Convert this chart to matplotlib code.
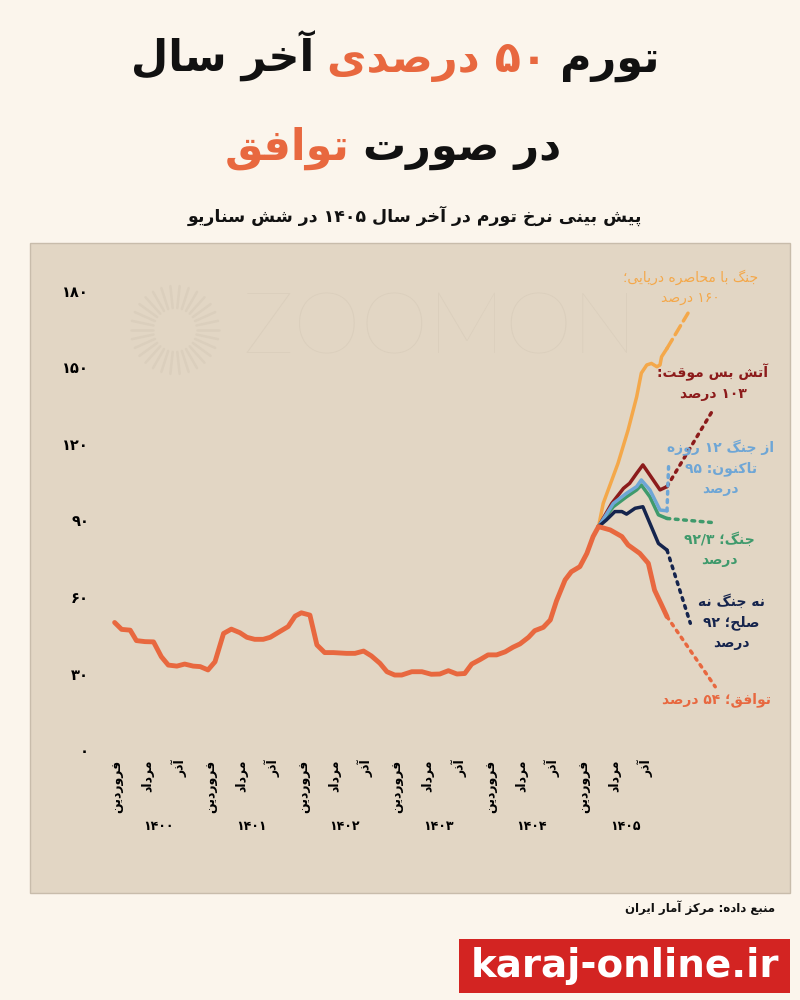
import re
import matplotlib
matplotlib.use('Agg')
import matplotlib.pyplot as plt
import matplotlib.transforms as mtransforms
from matplotlib.patches import Rectangle
from matplotlib.lines import Line2D
import numpy as np

plt.rcParams['font.family'] = ['DejaVu Sans']

# ==================== data (months from فروردین 1400) ====================
hist_month = [-0.3, 0.6, 1.7, 2.5, 3.6, 4.7, 5.7, 6.6, 7.7, 8.7, 9.8, 10.7, 11.7,
              12.6, 13.7, 14.7, 15.8, 16.7, 17.7, 18.8, 19.7, 20.9, 22.0, 22.9,
              23.7, 24.8, 25.7, 26.7, 27.8, 29.5, 30.6, 31.7, 32.7, 33.8, 34.7,
              35.7, 36.6, 37.9, 39.2, 40.4, 41.5, 42.6, 43.7, 44.7, 45.6, 46.7,
              47.7, 48.8, 49.9, 50.9, 51.8, 52.9, 53.7, 54.8, 55.7, 56.5, 57.6,
              58.4, 59.5, 60.4, 61.2, 61.9]
hist_value = [50.0, 47.3, 47.0, 42.9, 42.5, 42.4, 36.6, 33.3, 32.9, 33.7, 32.9,
              32.7, 31.4, 34.6, 45.7, 47.4, 46.0, 44.2, 43.4, 43.4, 44.2, 46.4,
              48.4, 52.5, 53.8, 52.9, 41.2, 38.2, 38.2, 37.9, 37.9, 38.8, 36.9,
              34.0, 30.7, 29.4, 29.4, 30.7, 30.7, 29.7, 29.8, 31.1, 29.8, 30.0,
              33.7, 35.5, 37.3, 37.3, 38.5, 40.3, 41.6, 44.2, 46.8, 48.1, 51.0,
              58.5, 66.7, 69.9, 71.9, 77.1, 83.7, 87.6]

# scenarios: solid path, then projection path
blockade_month = [61.9, 62.5, 64.4, 65.7, 66.8, 67.4, 68.1, 68.7, 69.4, 69.8, 70.0, 70.7]
blockade_value = [87.6, 96.7, 112.4, 125.5, 138.5, 147.8, 151.0, 151.6, 150.3, 151.0, 154.2, 157.5]
blockade_proj_month = [70.7, 73.4]
blockade_proj_value = [157.5, 171.3]

ceasefire_month = [61.9, 63.6, 65.1, 65.9, 66.8, 67.6, 68.5, 69.8, 70.7]
ceasefire_value = [87.6, 96.7, 102.6, 104.6, 108.5, 111.8, 107.8, 102.0, 103.3]
ceasefire_proj_month = [70.7, 76.6]
ceasefire_proj_value = [103.3, 133.3]

war12_month = [61.9, 63.8, 65.5, 66.8, 67.4, 68.5, 69.8, 70.7]
war12_value = [87.6, 96.7, 100.7, 103.3, 105.9, 102.0, 94.1, 93.8]
war12_proj_month = [70.7, 70.9]
war12_proj_value = [93.8, 111.1]

war_month = [61.9, 63.8, 65.5, 66.8, 67.4, 68.5, 69.6, 70.7]
war_value = [87.6, 95.4, 99.3, 102.0, 103.9, 99.3, 92.2, 90.8]
war_proj_month = [70.7, 76.9]
war_proj_value = [90.8, 89.1]

neither_month = [61.9, 62.9, 64.0, 64.9, 65.5, 66.6, 67.6, 68.5, 69.6, 70.7]
neither_value = [87.6, 90.2, 93.5, 93.5, 92.5, 94.8, 95.4, 88.9, 81.0, 78.4]
neither_proj_month = [70.7, 73.7]
neither_proj_value = [78.4, 49.7]

deal_month = [61.9, 63.4, 64.9, 65.7, 67.2, 68.3, 69.1, 70.0, 70.7]
deal_value = [87.6, 86.3, 83.7, 80.4, 77.1, 73.2, 62.7, 56.9, 52.3]
deal_proj_month = [70.7, 76.9]
deal_proj_value = [52.3, 24.8]

years = ['1400', '1401', '1402', '1403', '1404', '1405']
month_names = ['فروردین', 'مرداد', 'آذر']
month_offsets = [0, 4, 8]
y_ticks = [0, 30, 60, 90, 120, 150, 180]

# ==================== Persian shaping (no bidi lib available) ====================
DUAL = {'ب': 0xFE8F, 'ت': 0xFE95, 'ث': 0xFE99, 'ج': 0xFE9D, 'ح': 0xFEA1, 'خ': 0xFEA5,
        'س': 0xFEB1, 'ش': 0xFEB5, 'ص': 0xFEB9, 'ض': 0xFEBD, 'ط': 0xFEC1, 'ظ': 0xFEC5,
        'ع': 0xFEC9, 'غ': 0xFECD, 'ف': 0xFED1, 'ق': 0xFED5, 'ل': 0xFEDD, 'م': 0xFEE1,
        'ن': 0xFEE5, 'ه': 0xFEE9, 'ی': 0xFBFC, 'پ': 0xFB56, 'چ': 0xFB7A, 'گ': 0xFB92,
        'ک': 0xFB8E}
RIGHT = {'ا': 0xFE8D, 'آ': 0xFE81, 'د': 0xFEA9, 'ذ': 0xFEAB, 'ر': 0xFEAD, 'ز': 0xFEAF,
         'و': 0xFEED, 'ژ': 0xFB8A}
FA_DIGITS = str.maketrans('0123456789', '۰۱۲۳۴۵۶۷۸۹')
NUM = r'[0-9۰-۹]+(?:[/.][0-9۰-۹]+)*'


def shape(text):
    ch = list(text)
    n = len(ch)
    letter = lambda c: c in DUAL or c in RIGHT
    out = []
    i = 0
    while i < n:
        c = ch[i]
        prev = i > 0 and ch[i - 1] in DUAL and letter(c)
        if c == 'ل' and i + 1 < n and ch[i + 1] in ('ا', 'آ'):
            base = 0xFEFB if ch[i + 1] == 'ا' else 0xFEF5
            out.append(chr(base + (1 if prev else 0)))
            i += 2
            continue
        if c in DUAL:
            nxt = i + 1 < n and letter(ch[i + 1])
            out.append(chr(DUAL[c] + (3 if prev and nxt else 1 if prev else 2 if nxt else 0)))
        elif c in RIGHT:
            out.append(chr(RIGHT[c] + (1 if prev else 0)))
        else:
            out.append(c)
        i += 1
    return ''.join(out)


def fa(text):
    text = text.translate(FA_DIGITS)
    lines = []
    for line in text.split('\n'):
        parts = re.split('(' + NUM + ')', shape(line))
        lines.append(''.join(p if re.fullmatch(NUM, p) else p[::-1] for p in reversed(parts)))
    return '\n'.join(lines)


# ==================== figure ====================
W, H = 800, 1000
fig = plt.figure(figsize=(8, 10), dpi=100, facecolor='#fbf5ec')

ORANGE = '#e8683f'
BLACK = '#111111'

# chart panel
fig.add_artist(Rectangle((30 / W, 1 - 893 / H), 760 / W, 650 / H, transform=fig.transFigure,
                         facecolor='#e2d6c4', edgecolor='#c8bcab', lw=1, zorder=0))

# watermark
WM = '#dbcfbd'
fig.text(440 / W, 1 - 330 / H, 'ZOOMON', fontsize=62, color=WM, ha='center',
         va='center', family='Lato', weight='light', zorder=1)
cx, cy = 175, 330
for a in np.linspace(0, 2 * np.pi, 30, endpoint=False):
    r0, r1 = 22, 44
    fig.add_artist(Line2D([(cx + r0 * np.cos(a)) / W, (cx + r1 * np.cos(a)) / W],
                          [1 - (cy + r0 * np.sin(a)) / H, 1 - (cy + r1 * np.sin(a)) / H],
                          transform=fig.transFigure, color=WM, lw=1.8,
                          solid_capstyle='round', zorder=1))

ax = fig.add_axes([101.4 / W, 0.25, 622.4 / W, 0.459])
ax.set_facecolor('none')
ax.set_xlim(-2, 78)
ax.set_ylim(0, 180)
for s in ax.spines.values():
    s.set_visible(False)

# history + scenarios
ax.plot(hist_month, hist_value, color=ORANGE, lw=3.5, solid_joinstyle='round',
        solid_capstyle='round', zorder=3)

dot = (0, (0.8, 1.6))
scenarios = [
    (blockade_month, blockade_value, blockade_proj_month, blockade_proj_value, '#f4a84a', (0, (3, 1.6))),
    (ceasefire_month, ceasefire_value, ceasefire_proj_month, ceasefire_proj_value, '#8c1b1b', dot),
    (war_month, war_value, war_proj_month, war_proj_value, '#3f9a6c', dot),
    (war12_month, war12_value, war12_proj_month, war12_proj_value, '#6ea6d6', dot),
    (neither_month, neither_value, neither_proj_month, neither_proj_value, '#15244d', dot),
    (deal_month, deal_value, deal_proj_month, deal_proj_value, ORANGE, dot),
]
for m, v, pm, pv, col, ls in scenarios:
    lw = 3.5 if col == ORANGE else 2.5
    ax.plot(m, v, color=col, lw=lw, solid_joinstyle='round', solid_capstyle='round', zorder=4)
    ax.plot(pm, pv, color=col, lw=2.5, linestyle=ls, dash_capstyle='round', zorder=4)

# scenario labels
labels = [
    (73.7, 181.6, 'جنگ با محاصره دریایی؛\n160 درصد', '#f4a84a', 'normal'),
    (76.6, 144.3, 'آتش بس موقت:\n103 درصد', '#8c1b1b', 'bold'),
    (77.6, 110.6, 'از جنگ 12 روزه\nتاکنون: 95\nدرصد', '#6ea6d6', 'bold'),
    (77.4, 78.4, 'جنگ؛ 92/3\nدرصد', '#3f9a6c', 'bold'),
    (79.0, 50.2, 'نه جنگ نه\nصلح؛ 92\nدرصد', '#15244d', 'bold'),
    (77.1, 19.6, 'توافق؛ 54 درصد', ORANGE, 'bold'),
]
for x, y, t, c, w in labels:
    ax.text(x, y, fa(t), color=c, fontsize=10, weight=w, ha='center', va='center',
            multialignment='center', linespacing=1.55, zorder=5)

# axes ticks
ax.set_yticks(y_ticks)
ax.set_yticklabels([fa(str(t)) for t in y_ticks], fontsize=10.5, weight='bold')
xt, xl = [], []
for i in range(len(years)):
    for off, name in zip(month_offsets, month_names):
        xt.append(12 * i + off)
        xl.append(fa(name))
ax.set_xticks(xt)
ax.set_xticklabels(xl, rotation=90, fontsize=9, weight='bold', ha='center', va='top')
ax.tick_params(length=0)
ax.tick_params(axis='y', pad=9)
ax.tick_params(axis='x', pad=7)

trans = mtransforms.blended_transform_factory(ax.transData, fig.transFigure)
for i, yr in enumerate(years):
    ax.text(12 * i + 5.3, 1 - 826 / H, fa(yr), transform=trans, ha='center', va='center',
            fontsize=9, weight='bold')

# ==================== titles ====================
fig.canvas.draw()
renderer = fig.canvas.get_renderer()


def rtl_row(parts, y_px, size, cx_px):
    objs = [fig.text(0, 1 - y_px / H, fa(s), color=c, fontsize=size, weight='bold',
                     ha='left', va='baseline') for s, c in parts]
    widths = [o.get_window_extent(renderer).width for o in objs]
    gap = 0.3 * size * fig.dpi / 72
    x = cx_px + (sum(widths) + gap * (len(objs) - 1)) / 2
    for o, w in zip(objs, widths):
        x -= w
        o.set_x(x / W)
        x -= gap


rtl_row([('تورم', BLACK), ('50 درصدی', ORANGE), ('آخر سال', BLACK)], 72, 31, 395)
rtl_row([('در صورت', BLACK), ('توافق', ORANGE)], 160, 31, 393)
fig.text(415 / W, 1 - 222 / H, fa('پیش بینی نرخ تورم در آخر سال 1405 در شش سناریو'),
         fontsize=12.5, weight='bold', color=BLACK, ha='center', va='baseline')

fig.text(775 / W, 1 - 908 / H, fa('منبع داده: مرکز آمار ایران'), fontsize=8.5, weight='bold',
         color=BLACK, ha='right', va='center')

# footer banner
fig.add_artist(Rectangle((459 / W, 1 - 993 / H), 331 / W, 54 / H, transform=fig.transFigure,
                         facecolor='#d32422', edgecolor='none'))
fig.text(624.5 / W, 1 - 966 / H, 'karaj-online.ir', fontsize=28, weight='bold', color='white',
         ha='center', va='center')

fig.savefig('out.png', dpi=100, facecolor=fig.get_facecolor())
